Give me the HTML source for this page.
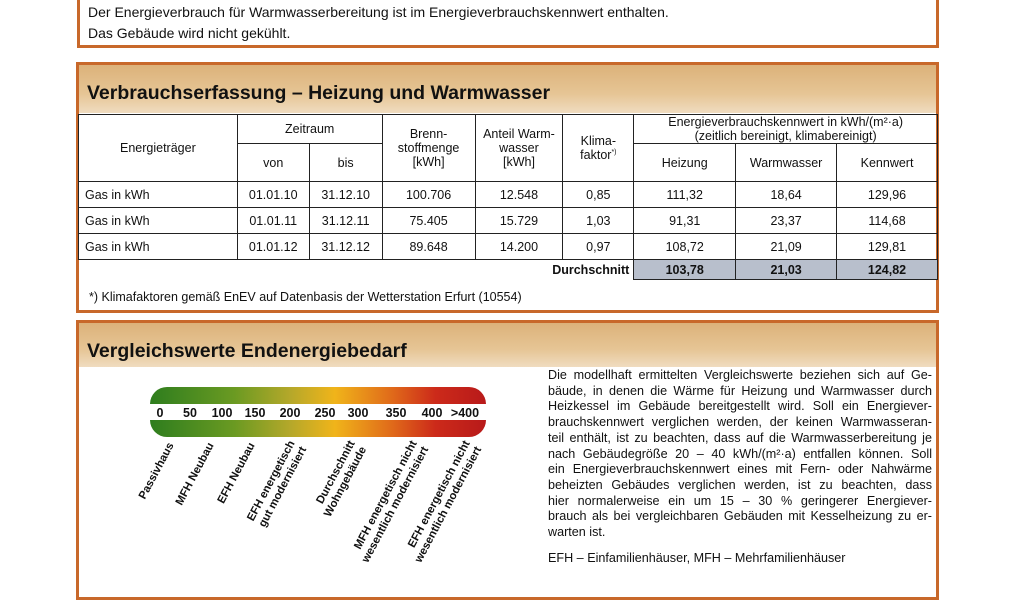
<!DOCTYPE html>
<html><head><meta charset="utf-8"><style>
body{margin:0;width:1024px;height:576px;background:#fff;position:relative;overflow:hidden;font-family:"Liberation Sans",sans-serif;color:#111}
.box{position:absolute;border:3px solid #c8682a;box-sizing:border-box;background:#fff}
.hdr{position:absolute;left:0;right:0;background:linear-gradient(#dcb27a,#e6c595 60%,#f0dcc0);font-weight:bold;font-size:19.5px;padding-left:8px;box-sizing:border-box}
table{position:absolute;border-collapse:collapse;font-size:12.5px}
td{border:1.5px solid #222;text-align:center;padding:0;height:25px}
.l{text-align:left;padding-left:6px}
.s{background:#b8bfcc;font-weight:bold}
tr.d td{height:19px}
.txt{position:absolute;font-size:12.6px;line-height:15.7px;text-align:justify;text-align-last:justify;width:384px}
.txt div{white-space:nowrap;text-align:justify;text-align-last:justify}
</style></head><body>
<div class="box" style="left:77px;top:-10px;width:862px;height:58px;border-top:none">
<div style="position:absolute;left:8px;top:12px;font-size:14px;line-height:21px">Der Energieverbrauch für Warmwasserbereitung ist im Energieverbrauchskennwert enthalten.<br>Das Gebäude wird nicht gekühlt.</div></div>

<div class="box" style="left:76px;top:62px;width:863px;height:251px">
<div class="hdr" style="top:0;height:48px;padding-top:17px">Verbrauchserfassung – Heizung und Warmwasser</div>
<table style="left:-1px;top:49px;width:860px">
<colgroup><col style="width:159px"><col style="width:72px"><col style="width:73px"><col style="width:93px"><col style="width:88px"><col style="width:71px"><col style="width:102px"><col style="width:101px"><col style="width:101px"></colgroup>
<tr><td rowspan="2" style="height:64px">Energieträger</td><td colspan="2" style="height:26px">Zeitraum</td><td rowspan="2">Brenn-<br>stoffmenge<br>[kWh]</td><td rowspan="2">Anteil Warm-<br>wasser<br>[kWh]</td><td rowspan="2">Klima-<br>faktor<sup style="font-size:7px">*)</sup></td><td colspan="3">Energieverbrauchskennwert in kWh/(m²·a)<br>(zeitlich bereinigt, klimabereinigt)</td></tr>
<tr><td style="height:37px">von</td><td>bis</td><td>Heizung</td><td>Warmwasser</td><td>Kennwert</td></tr>
<tr><td class="l">Gas in kWh</td><td>01.01.10</td><td>31.12.10</td><td>100.706</td><td>12.548</td><td>0,85</td><td>111,32</td><td>18,64</td><td>129,96</td></tr>
<tr><td class="l">Gas in kWh</td><td>01.01.11</td><td>31.12.11</td><td>75.405</td><td>15.729</td><td>1,03</td><td>91,31</td><td>23,37</td><td>114,68</td></tr>
<tr><td class="l">Gas in kWh</td><td>01.01.12</td><td>31.12.12</td><td>89.648</td><td>14.200</td><td>0,97</td><td>108,72</td><td>21,09</td><td>129,81</td></tr>
<tr class="d"><td colspan="6" style="border:none;text-align:right;font-weight:bold;padding-right:4px">Durchschnitt</td><td class="s">103,78</td><td class="s">21,03</td><td class="s">124,82</td></tr>
</table>
<div style="position:absolute;left:10px;top:225px;font-size:12.5px">*) Klimafaktoren gemäß EnEV auf Datenbasis der Wetterstation Erfurt (10554)</div>
</div>

<div class="box" style="left:76px;top:320px;width:863px;height:280px">
<div class="hdr" style="top:0;height:44px;padding-top:17px">Vergleichswerte Endenergiebedarf</div>
<svg style="position:absolute;left:0;top:0" width="460" height="260">
<defs><linearGradient id="g" x1="0" x2="1"><stop offset="0" stop-color="#2e7d1e"/><stop offset=".25" stop-color="#6a9a22"/><stop offset=".42" stop-color="#b6a82a"/><stop offset=".55" stop-color="#f0b41a"/><stop offset=".72" stop-color="#e06a1a"/><stop offset=".85" stop-color="#cc2a1a"/><stop offset="1" stop-color="#b81a1a"/></linearGradient></defs>
<path d="M71 81 a17 17 0 0 1 17 -17 H390 a17 17 0 0 1 17 17 Z" fill="url(#g)"/>
<path d="M71 97 H407 a17 17 0 0 1 -17 17 H88 a17 17 0 0 1 -17 -17 Z" fill="url(#g)"/>
<g font-weight="bold" font-size="12.5" text-anchor="middle" fill="#111">
<text x="81" y="94">0</text><text x="111" y="94">50</text><text x="143" y="94">100</text><text x="176" y="94">150</text><text x="211" y="94">200</text><text x="246" y="94">250</text><text x="279" y="94">300</text><text x="317" y="94">350</text><text x="353" y="94">400</text><text x="386" y="94">&gt;400</text>
</g>
<g font-weight="bold" font-size="11.3" text-anchor="end" fill="#111">
<text transform="translate(95,122) rotate(-62)">Passivhaus</text>
<text transform="translate(135,122) rotate(-62)">MFH Neubau</text>
<text transform="translate(176,122) rotate(-62)">EFH Neubau</text>
<text transform="translate(216,120) rotate(-62)"><tspan x="0">EFH energetisch</tspan><tspan x="0" dy="13">gut modernisiert</tspan></text>
<text transform="translate(276,120) rotate(-62)"><tspan x="0">Durchschnitt</tspan><tspan x="0" dy="13">Wohngebäude</tspan></text>
<text transform="translate(338,120) rotate(-62)"><tspan x="0">MFH energetisch nicht</tspan><tspan x="0" dy="13">wesentlich modernisiert</tspan></text>
<text transform="translate(391,120) rotate(-62)"><tspan x="0">EFH energetisch nicht</tspan><tspan x="0" dy="13">wesentlich modernisiert</tspan></text>
</g></svg>
<div class="txt" style="left:469px;top:45px">
<div>Die modellhaft ermittelten Vergleichswerte beziehen sich auf Ge-</div>
<div>bäude, in denen die Wärme für Heizung und Warmwasser durch</div>
<div>Heizkessel im Gebäude bereitgestellt wird. Soll ein Energiever-</div>
<div>brauchskennwert verglichen werden, der keinen Warmwasseran-</div>
<div>teil enthält, ist zu beachten, dass auf die Warmwasserbereitung je</div>
<div>nach Gebäudegröße 20 – 40 kWh/(m²·a) entfallen können. Soll</div>
<div>ein Energieverbrauchskennwert eines mit Fern- oder Nahwärme</div>
<div>beheizten Gebäudes verglichen werden, ist zu beachten, dass</div>
<div>hier normalerweise ein um 15 – 30 % geringerer Energiever-</div>
<div>brauch als bei vergleichbaren Gebäuden mit Kesselheizung zu er-</div>
<div style="text-align-last:left">warten ist.</div>
</div>
<div style="position:absolute;left:469px;top:228px;font-size:12.6px">EFH – Einfamilienhäuser, MFH – Mehrfamilienhäuser</div>
</div>
</body></html>
